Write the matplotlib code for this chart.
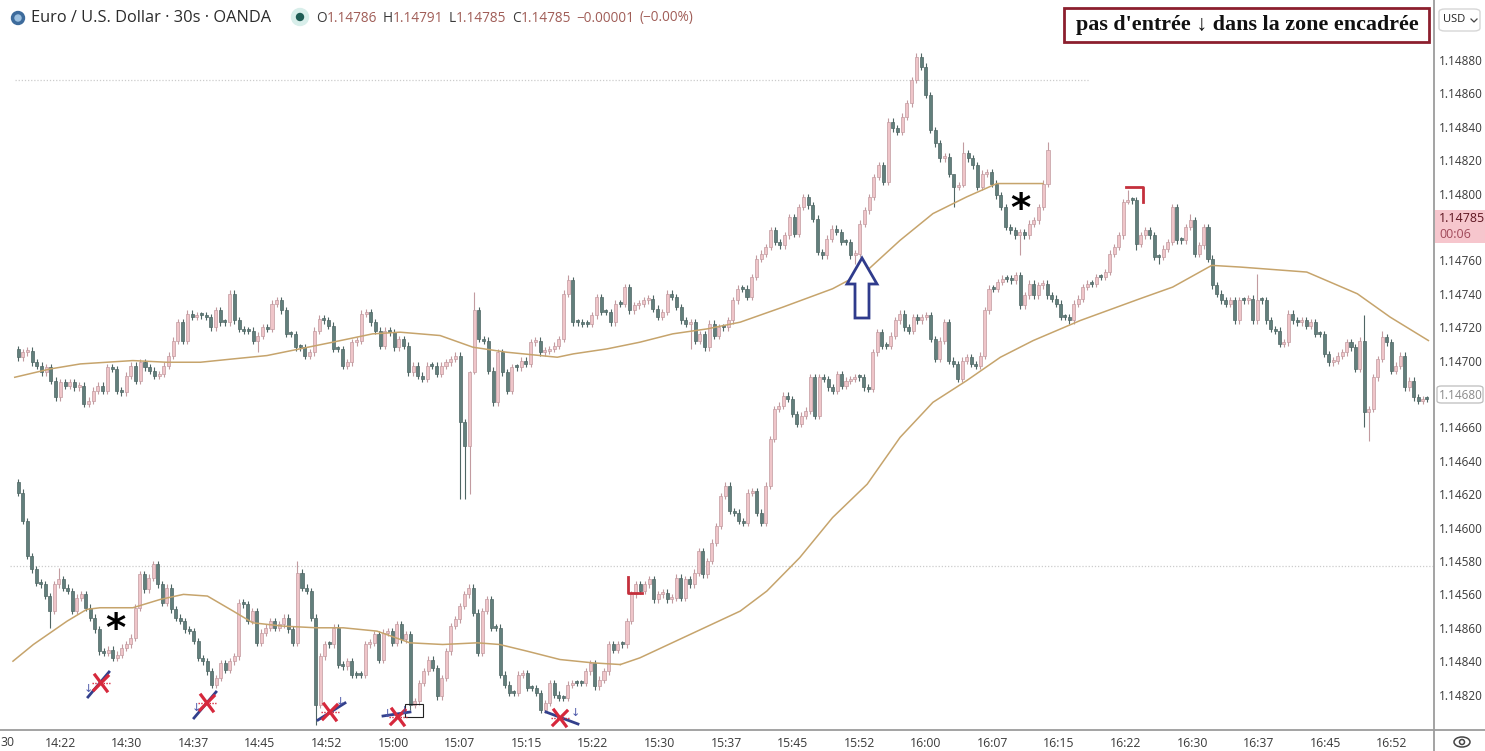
import numpy as np
import matplotlib.pyplot as plt
from matplotlib.patches import Rectangle, Polygon, Ellipse, FancyBboxPatch
from matplotlib.lines import Line2D

plt.rcParams['font.family'] = ['Open Sans', 'DejaVu Sans']

W, H = 1485, 751

# candle values in 1e-5 above 1.14000; a tuple is (close, high, low)
# time in minutes after 14:00 (first candle, last candle)
UP_T = (17.77, 133.76)
UP_OPEN = 707
UP_CLOSE = [
    702, 705, 706, 699, 697, 693, 696, 688, 678, 687,
    685, 687, 684, 685, 674, 676, 682, 685, 682, 696,
    695, 682, 681, 691, 697, 688, 699, 696, 694, 691,
    692, 697, 703, 712, 723, 712, 728, 726, 727, 727,
    726, 720, 730, 723, 723, 740, 724, 719, 718, 718,
    712, (715, 717, 705), 720, 719, 734, 736, 730, 716, 716, 708,
    708, 703, 705, 718, 725, 724, 721, 707, 707, 697,
    699, 711, 712,
    728, 729, 723, 718, 709, 718, 717, 708, 713, 709,
    693, 697, 691, 689, 697, 697, 692, 697, 699, 701,
    703, (663, 705, 617), (649, 665, 617), (693, 694, 620), (730, 741, 692), 713, 712, 694, 675, 705,
    693, 682, 696, 696, 700, 698, 711, 712, 705, 706,
    707, 709, 713, 740, (748, 751, 738), 723, 723, 722, 722, 727,
    738, 729, 729, 723, 734, 734, 744, 730, 733, 734,
    736, 737, 731, 726, 729, 740, 738, 732, 724, 722,
    (723, 725, 707), 712, 716, 708, 722, 715, 720, 720, 724, 736,
    743,
    743, 738, 750, 761, 764, 768, 778, 771, 769, 775,
    786, 776, 792, 798, 793, 785, 765, 763, 773, 779,
    777, 771, 771, 763, (764, 766, 758), 782, 790, 798, 810, 817,
    807, 843, 839, 837, 846, 854, 868, (882, 884, 866), 876, 859,
    838, 830, 821, 822, 812, (804, 806, 792), 805, (824, 831, 804), 821, 817,
    804, 812, 813, 806, 799, 792, 780, 778, 775, (777, 779, 763),
    775, 782, 784, 792, 806, (826, 831, 804),
]

# pasted lower chart, values on its own scale (1.148xx)
LOW_SHIFT = 0.0032
BL_T = (17.77, 85.79)
BL_OPEN = 947
BL_CLOSE = [
    (941, 949, 939), 924, 903, 895, 887, 886, 879, (870, 881, 860), 886, (889, 896, 884),
    884, 882, 870, 878, 880, 872, 866, 859, 846, 845,
    847, 842, 844, 848, 850, 854, 872, 892, 883, 890,
    898, 886, 875, 884, 871, 866, 864, 859, 858, 852,
    842, 840, 834, 826, 830, 839, 835, 840, 843, 875,
    874, 864, 870, 851, 857, 860, 864, 860, 862, 866,
    859, 851, (893, 900, 849), 884, 882, 866, (814, 868, 802), 843, 850, 850,
    860, 838, 837, 840, 832, 832, 832, 850, 851, 856,
    841, 857, 858, 851, 862, 853, 856, (814, 858, 811), 816, 827,
    834, 841, 836, 819, 830, 846, 861, 865, 873, 880,
    884, 869, 845, 870, 877, 860, 860, 832, 826, 821,
    821, 832, 833, 824, 824, 821, 811, 815, 827, 820,
    818, 818, 826, 827, 827, 827, 834, 839, 825, 829,
    834, 850, 847, 850, 850,
]

MID_T = (86.35, 176.44)
MID_OPEN = 530
MID_CLOSE = [
    544, 560, 566, 562, 566, 569, 557, 560, 561, 557,
    558, 570, 558, 569, 566, 573, 586, 572, 580, 591,
    601, 619, 625, 610, 609, 604, 603, 621, 622, 609,
    603, 625, 653, 671, 673, 679, 677, 668, 662, 667,
    670, 690, 667, 690, 689, 684, 682, 692, 685, 688,
    689, 690, 690, 684, 683, 705, 717, 709, 709, 715,
    724, 728, 720, 718, 726, 724, 726, 727, 713, 701,
    712, 723, 700, 698, 689, 700, 702, 698, 697, 703,
    730, 743, 743, 747, 749, 749, 748, 751, 733, 739,
    746, 739, 745, 746, 739, 737, 734, 726, 726, 724,
    734, 737, 744, 746, 746, 750, 750, 753, 764, 768,
    775, 795, (796, 802, 794), 796, (770, 798, 766), 775, 778, 775, 762, (762, 764, 758),
    767, 771, 792, 772, 772, 780, (784, 788, 778), 764, 769, 780,
    761, 745, 740, 736, 734, 736, 724, 736, 736, 737,
    724, (736, 752, 722), 736, 724, 719, 718, 710, 711, 728, 724,
    723, 724, 721, 723, 716, 716, 704, 699, 700, 703,
    705, 711, 708, 695, 712, (669, 727, 660), (671, 673, 652), 690, 701, (714, 718, 699),
    711, 694, 697, 703, 684, 688, 678, 676, 677, 677,
]

# moving averages
UP_MA_T = [17.4, 21.4, 24.8, 30.7, 34.5, 38.3, 42.0, 45.8, 49.5, 53.2, 57.7, 60.8, 65.3,
           69.0, 72.8, 76.6, 78.5, 80.3, 84.1, 87.8, 91.5, 95.4, 99.1, 103.9, 109.5,
           113.4, 117.1, 120.8, 124.6, 128.0, 133.2]
UP_MA = [690, 695, 698, 700, 699, 699, 701, 703, 707, 711, 716, 717, 715,
         708, 705, 703, 702, 704, 707, 711, 716, 719, 723, 732, 743,
         754, 772, 788, 798, 806, 806]
BL_MA_T = [17.2, 19.5, 23.3, 25.5, 27.0, 30.7, 33.8, 36.4, 39.1, 42.0, 44.2, 47.6,
           51.4, 54.4, 58.2, 61.9, 65.6, 69.5, 72.0, 75.1, 78.8, 82.5, 85.6]
BL_MA = [840, 850, 864, 871, 872, 872, 877, 880, 879, 870, 863, 861,
         860, 860, 858, 851, 850, 851, 850, 846, 841, 839, 838]
MID_MA_T = [85.6, 87.8, 99.1, 102.1, 105.8, 109.5, 113.4, 117.1, 120.8, 124.6, 128.4,
            132.1, 137.4, 144.1, 147.8, 152.2, 155.4, 162.9, 168.6, 172.3, 176.6]
MID_MA = [518, 522, 550, 562, 582, 606, 626, 654, 675, 688, 702,
          712, 724, 737, 744, 757, 756, 753, 740, 726, 712]

PRICE_TICKS = [1.14880, 1.14860, 1.14840, 1.14820, 1.14800, 1.14760, 1.14740, 1.14720,
               1.14700, 1.14680, 1.14660, 1.14640, 1.14620, 1.14600, 1.14580, 1.14560,
               1.14540, 1.14520, 1.14500]
PRICE_LABELS = ['1.14880', '1.14860', '1.14840', '1.14820', '1.14800', '1.14760', '1.14740',
                '1.14720', '1.14700', '1.14680', '1.14660', '1.14640', '1.14620', '1.14600',
                '1.14580', '1.14560', '1.14860', '1.14840', '1.14820']
TIME_TICKS = [22.5, 30, 37.5, 45, 52.5, 60, 67.5, 75, 82.5, 90, 97.5, 105, 112.5, 120,
              127.5, 135, 142.5, 150, 157.5, 165, 172.5]
TIME_LABELS = ['14:22', '14:30', '14:37', '14:45', '14:52', '15:00', '15:07', '15:15',
               '15:22', '15:30', '15:37', '15:45', '15:52', '16:00', '16:07', '16:15',
               '16:22', '16:30', '16:37', '16:45', '16:52']

WICK = 2
BULL, BULL_EDGE = '#efc5c9', '#c29ba0'
BEAR, BEAR_EDGE = '#627f7c', '#4f6664'
MA_COLOR = '#c6a46c'


def price(v, shift=0.0):
    return 1.14 + np.asarray(v) * 1e-5 - shift


def draw_candles(ax, trange, open0, closes, shift=0.0):
    t = np.linspace(trange[0], trange[1], len(closes))
    o = open0
    for ti, item in zip(t, closes):
        if isinstance(item, tuple):
            c, hi, lo = item
        else:
            c = item
            hi, lo = max(o, c) + WICK, min(o, c) - WICK
        bull = c > o
        ax.vlines(ti, price(lo, shift), price(hi, shift), color=BULL_EDGE if bull else BEAR_EDGE,
                  lw=0.8, zorder=2)
        bot = min(o, c)
        hgt = max(abs(c - o), 1.2)
        ax.add_patch(Rectangle((ti - 0.17, price(bot, shift)), 0.34, hgt * 1e-5,
                               facecolor=BULL if bull else BEAR,
                               edgecolor=BULL_EDGE if bull else BEAR_EDGE, lw=0.5, zorder=3))
        o = c


def fx(x):
    return x / W


def fy(y):
    return 1 - y / H


def pline(fig, xs, ys, **kw):
    fig.add_artist(Line2D([fx(x) for x in xs], [fy(y) for y in ys],
                          transform=fig.transFigure, **kw))


fig = plt.figure(figsize=(W / 100, H / 100), dpi=100)
ax = fig.add_axes([0, 21 / H, 1434 / W, 730 / H])
ax.set_xlim(15.74, 177.23)
ax.set_ylim(1.144788, 1.149159)

draw_candles(ax, UP_T, UP_OPEN, UP_CLOSE)
draw_candles(ax, BL_T, BL_OPEN, BL_CLOSE, LOW_SHIFT)
draw_candles(ax, MID_T, MID_OPEN, MID_CLOSE)

ax.plot(UP_MA_T, price(UP_MA), color=MA_COLOR, lw=1.1, zorder=4)
ax.plot(BL_MA_T, price(BL_MA, LOW_SHIFT), color=MA_COLOR, lw=1.1, zorder=4)
ax.plot(MID_MA_T, price(MID_MA), color=MA_COLOR, lw=1.1, zorder=4)

ax.hlines(1.14868, 17.4, 138.5, color='#cccccc', lw=0.9, linestyles=(0, (1, 1.5)), zorder=1)
ax.hlines(1.14577, 16.9, 177.2, color='#cccccc', lw=0.9, linestyles=(0, (1, 1.5)), zorder=1)

for side in ['left', 'top', 'bottom']:
    ax.spines[side].set_visible(False)
ax.spines['right'].set_color('#9c9c9c')
ax.spines['right'].set_linewidth(1.3)
ax.yaxis.tick_right()
ax.set_yticks(PRICE_TICKS, PRICE_LABELS)
ax.set_xticks(TIME_TICKS, TIME_LABELS)
ax.tick_params(axis='y', length=0, pad=3.5, labelsize=8.5, labelcolor='#3a3a3a')
ax.tick_params(axis='x', length=0, pad=5, labelsize=8.8, labelcolor='#3a3a3a')
ax.get_yticklabels()[PRICE_LABELS.index('1.14680')].set_color('#8a8a8a')

# bottom axis line and left cut-off time label
pline(fig, [0, W], [730, 730], color='#9c9c9c', lw=1.3)
pline(fig, [1434, 1434], [730, 751], color='#9c9c9c', lw=1.3)
fig.text(fx(0), fy(742), '30', fontsize=8.8, color='#3a3a3a', va='center')

# header
fig.add_artist(Ellipse((fx(18), fy(18)), 13 / W, 13 / H, color='#3d6b9c', transform=fig.transFigure))
fig.add_artist(Ellipse((fx(18), fy(18)), 6 / W, 6 / H, color='#9cc0e0', transform=fig.transFigure))
t = fig.text(fx(31), fy(18), 'Euro / U.S. Dollar · 30s · OANDA', fontsize=11.8, color='#2b2b2b',
             va='center')
fig.add_artist(Ellipse((fx(300), fy(17)), 17 / W, 17 / H, color='#d8eeea', transform=fig.transFigure))
fig.add_artist(Ellipse((fx(300), fy(17)), 7 / W, 7 / H, color='#1e5c54', transform=fig.transFigure))
prev = fig.text(fx(316), fy(18), 'O', fontsize=9.8, color='#3a3a3a', va='center')
for s, col, gap in [('1.14786', '#a05d57', 0), ('H', '#3a3a3a', 4), ('1.14791', '#a05d57', 0),
                    ('L', '#3a3a3a', 4), ('1.14785', '#a05d57', 0), ('C', '#3a3a3a', 4),
                    ('1.14785', '#a05d57', 0), ('\u22120.00001', '#a05d57', 4),
                    ('(\u22120.00%)', '#a05d57', 4)]:
    prev = ax.annotate(s, xy=(1, 0), xycoords=prev, xytext=(gap, 0), textcoords='offset points',
                       fontsize=9.8, color=col, va='bottom', annotation_clip=False)

# note box top right
fig.add_artist(Rectangle((fx(1064), fy(42)), 365 / W, 34 / H, facecolor='white',
                         edgecolor='#8c1f2e', lw=2, transform=fig.transFigure, zorder=5))
fig.text(fx(1247), fy(25), "pas d'entrée \u2193 dans la zone encadrée", fontsize=15.8,
         fontweight='bold', family=['Liberation Serif', 'DejaVu Serif'], color='#111111',
         ha='center', va='center', zorder=6)

# USD button
fig.add_artist(FancyBboxPatch((fx(1439), fy(31)), 41 / W, 22 / H, boxstyle='round,pad=0,rounding_size=0.004',
                              facecolor='white', edgecolor='#d6d6d6', lw=1, transform=fig.transFigure))
fig.text(fx(1443), fy(20), 'USD', fontsize=8, color='#222222', va='center')
pline(fig, [1471, 1474, 1477], [19, 22, 19], color='#444444', lw=0.9)

# current price labels
fig.add_artist(Rectangle((fx(1435), fy(243)), 50 / W, 33 / H, facecolor='#f6c6cd', edgecolor='none',
                         transform=fig.transFigure))
fig.text(fx(1439), fy(219), '1.14785', fontsize=9, color='#5e1621', va='center')
fig.text(fx(1439), fy(235), '00:06', fontsize=9, color='#a0495a', va='center')
fig.add_artist(FancyBboxPatch((fx(1437), fy(403)), 46 / W, 17 / H, boxstyle='round,pad=0,rounding_size=0.003',
                              facecolor='none', edgecolor='#bdbdbd', lw=0.9, transform=fig.transFigure))

# settings icon bottom right
fig.add_artist(Ellipse((fx(1462), fy(742)), 16 / W, 10 / H, facecolor='none', edgecolor='#444444',
                       lw=1.1, transform=fig.transFigure))
fig.add_artist(Ellipse((fx(1462), fy(742)), 5 / W, 5 / H, facecolor='none', edgecolor='#444444',
                       lw=1.1, transform=fig.transFigure))

# up arrow
arrow = [(862, 258), (877, 284), (869, 284), (869, 318), (855, 318), (855, 284), (847, 284)]
fig.add_artist(Polygon([(fx(x), fy(y)) for x, y in arrow], closed=True, facecolor='white',
                       edgecolor='#2f3b8c', lw=2, transform=fig.transFigure, zorder=5))

# asterisks
for x, y in [(115, 623), (1020, 203)]:
    fig.text(fx(x), fy(y + 7), '*', fontsize=28, fontweight='bold', color='black',
             ha='center', va='center', family='DejaVu Sans')

# red brackets
pline(fig, [628, 628, 642], [577, 593, 593], color='#c4303c', lw=2)
pline(fig, [1126, 1143, 1143], [187, 187, 202], color='#c4303c', lw=2)

# small box
fig.add_artist(Rectangle((fx(405), fy(717)), 18 / W, 13 / H, facecolor='none', edgecolor='#222222',
                         lw=0.8, transform=fig.transFigure))

# red crosses with navy strokes
marks = [((101, 683), (88, 697), (109, 672), [(88, 689)]),
         ((207, 703), (194, 718), (216, 692), [(196, 708)]),
         ((330, 712), (318, 720), (345, 703), [(340, 702)]),
         ((398, 717), (383, 716), (410, 712), [(387, 714), (404, 711)]),
         ((560, 718), (546, 712), (578, 724), [(575, 713)])]
for (cx, cy), (x0, y0), (x1, y1), arrows in marks:
    pline(fig, [x0, x1], [y0, y1], color='#33408c', lw=2)
    pline(fig, [cx - 6, cx + 6], [cy - 8, cy + 8], color='#d6283c', lw=2.3)
    pline(fig, [cx - 7, cx + 7], [cy + 7, cy - 7], color='#d6283c', lw=2.3)
    pline(fig, [cx - 9, cx + 9], [cy, cy], color='#d6283c', lw=1, ls=(0, (1, 1)))
    for ax_, ay_ in arrows:
        fig.text(fx(ax_), fy(ay_), '\u2193', fontsize=8, color='#4a56a8', ha='center', va='center',
                 family='DejaVu Sans')

fig.savefig('out.png', dpi=100)
